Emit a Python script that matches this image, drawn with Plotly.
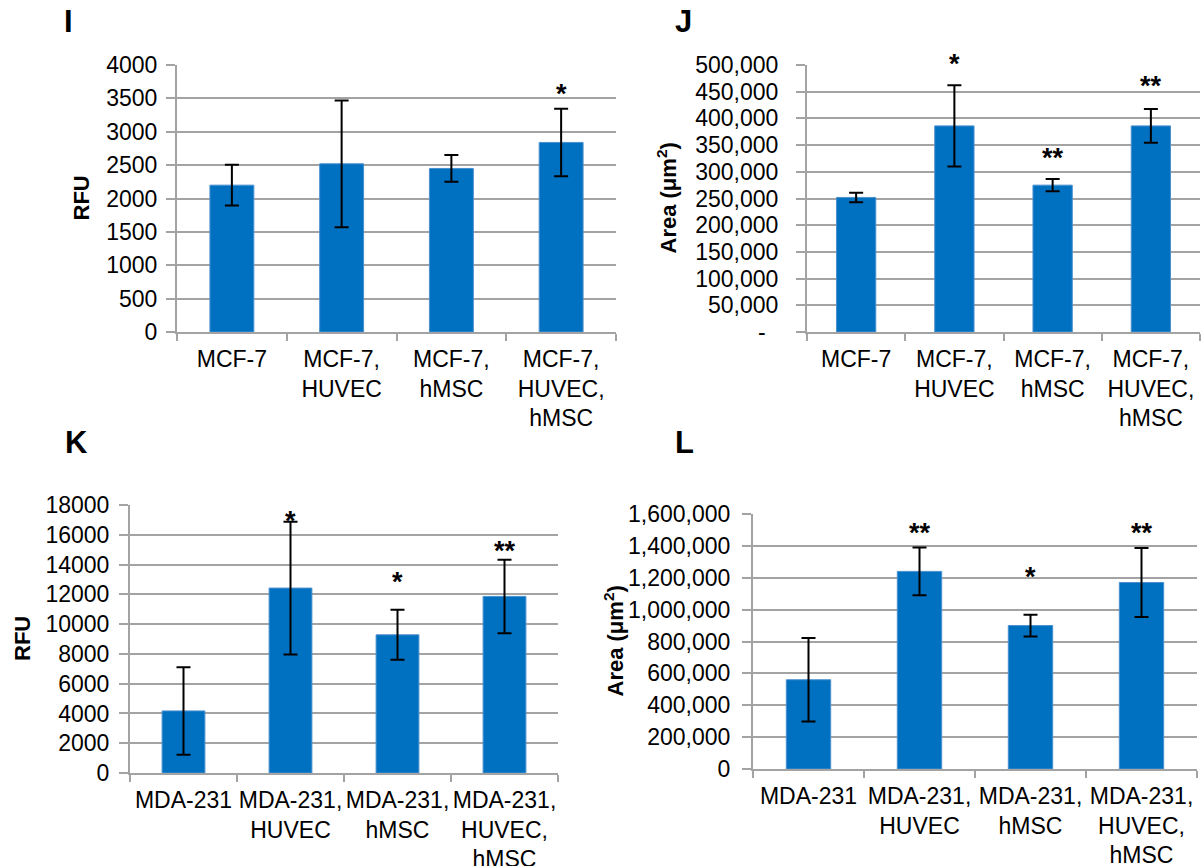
import plotly.graph_objects as go

# ---------------- data ----------------
mcf_categories = ["MCF-7", "MCF-7,<br>HUVEC", "MCF-7,<br>hMSC", "MCF-7,<br>HUVEC,<br>hMSC"]
mda_categories = ["MDA-231", "MDA-231,<br>HUVEC", "MDA-231,<br>hMSC", "MDA-231,<br>HUVEC,<br>hMSC"]

i_rfu = [2200, 2520, 2450, 2840]
i_err = [305, 950, 200, 505]
i_stars = ["", "", "", "*"]
i_star_y = [None, None, None, 3655]

j_area = [252000, 386000, 275000, 386000]
j_err = [9000, 76000, 11500, 31500]
j_stars = ["", "*", "**", "**"]
j_star_y = [None, 513000, 337000, 472000]

k_rfu = [4170, 12420, 9280, 11860]
k_err = [2940, 4460, 1680, 2470]
k_stars = ["", "*", "*", "**"]
k_star_y = [None, 17330, 13260, 15320]

l_area = [560000, 1240000, 900000, 1170000]
l_err = [262000, 150000, 68000, 217000]
l_stars = ["", "**", "*", "**"]
l_star_y = [None, 1516000, 1240000, 1516000]

i_ticks = [0, 500, 1000, 1500, 2000, 2500, 3000, 3500, 4000]
i_ticktext = [str(v) for v in i_ticks]
j_ticks = list(range(0, 500001, 50000))
j_ticktext = ["-\u00a0\u00a0"] + [f"{v:,}" for v in j_ticks[1:]]
k_ticks = list(range(0, 18001, 2000))
k_ticktext = [str(v) for v in k_ticks]
l_ticks = list(range(0, 1600001, 200000))
l_ticktext = [f"{v:,}" for v in l_ticks]

# ---------------- layout helpers ----------------
W, H = 1201, 866
FONT = "Liberation Sans, Arial, sans-serif"
GRID = "#a3a3a3"
BAR = "#0070C0"


def px_x(p):
    return p / W


def px_y(p):
    return 1 - p / H


panels = [
    dict(cats=mcf_categories, vals=i_rfu, errs=i_err, stars=i_stars, star_y=i_star_y,
         ticks=i_ticks, ticktext=i_ticktext, ymax=4000,
         xdom=(177, 616), ydom=(65, 332), title="RFU", title_x=81, letter="I",
         letter_xy=(68, 22), standoff=4),
    dict(cats=mcf_categories, vals=j_area, errs=j_err, stars=j_stars, star_y=j_star_y,
         ticks=j_ticks, ticktext=j_ticktext, ymax=500000,
         xdom=(807, 1200), ydom=(65, 332), title="Area (μm<sup>2</sup>)", title_x=667, letter="J",
         letter_xy=(683, 22), standoff=13),
    dict(cats=mda_categories, vals=k_rfu, errs=k_err, stars=k_stars, star_y=k_star_y,
         ticks=k_ticks, ticktext=k_ticktext, ymax=18000,
         xdom=(130, 558), ydom=(505, 773), title="RFU", title_x=22, letter="K",
         letter_xy=(76, 443), standoff=5),
    dict(cats=mda_categories, vals=l_area, errs=l_err, stars=l_stars, star_y=l_star_y,
         ticks=l_ticks, ticktext=l_ticktext, ymax=1600000,
         xdom=(753, 1197), ydom=(514, 769), title="Area (μm<sup>2</sup>)", title_x=613, letter="L",
         letter_xy=(684, 443), standoff=7),
]

fig = go.Figure()
annotations = []
layout_axes = {}

for n, p in enumerate(panels, start=1):
    xa = "x" if n == 1 else f"x{n}"
    ya = "y" if n == 1 else f"y{n}"
    xkey = "xaxis" if n == 1 else f"xaxis{n}"
    ykey = "yaxis" if n == 1 else f"yaxis{n}"

    fig.add_trace(go.Bar(
        x=p["cats"], y=p["vals"], xaxis=xa, yaxis=ya,
        marker=dict(color=BAR, line=dict(color="#4a90cf", width=1)),
        error_y=dict(type="data", array=p["errs"], visible=True,
                     color="black", thickness=2, width=7),
        showlegend=False, hoverinfo="skip",
    ))

    layout_axes[xkey] = dict(
        domain=[px_x(p["xdom"][0]), px_x(p["xdom"][1])],
        anchor=ya, type="category", range=[-0.5, 3.5],
        showline=True, linecolor=GRID, linewidth=2,
        ticks="outside", tickson="boundaries", ticklen=7, tickwidth=2, tickcolor=GRID,
        showgrid=False, zeroline=False, tickangle=0, automargin=False,
        tickfont=dict(family=FONT, size=23, color="black"),
        ticklabelstandoff=5,
    )
    layout_axes[ykey] = dict(
        domain=[px_y(p["ydom"][1]), px_y(p["ydom"][0])],
        anchor=xa, range=[0, p["ymax"]],
        tickmode="array", tickvals=p["ticks"], ticktext=p["ticktext"],
        showgrid=True, gridcolor=GRID, gridwidth=2,
        showline=True, linecolor=GRID, linewidth=2,
        ticks="outside", ticklen=9, tickwidth=2, tickcolor=GRID,
        zeroline=False, automargin=False,
        tickfont=dict(family=FONT, size=23, color="black"),
        ticklabelstandoff=p["standoff"],
    )

    # significance stars (y given in data units, placed via the axis domain so
    # stars above the axis range stay visible)
    for cat, s, sy in zip(p["cats"], p["stars"], p["star_y"]):
        if s:
            annotations.append(dict(
                x=cat, y=sy / p["ymax"], xref=xa, yref=f"{ya} domain",
                text="<b>" + s + "</b>", showarrow=False,
                font=dict(family=FONT, size=27, color="black"),
                yanchor="middle", xanchor="center", yshift=-6,
            ))

    # axis title
    cy = (p["ydom"][0] + p["ydom"][1]) / 2
    annotations.append(dict(
        x=px_x(p["title_x"]), y=px_y(cy), xref="paper", yref="paper",
        text="<b>" + p["title"] + "</b>", textangle=-90, showarrow=False,
        font=dict(family=FONT, size=22, color="black"),
        xanchor="center", yanchor="middle",
    ))
    # panel letter
    annotations.append(dict(
        x=px_x(p["letter_xy"][0]), y=px_y(p["letter_xy"][1]), xref="paper", yref="paper",
        text="<b>" + p["letter"] + "</b>", showarrow=False,
        font=dict(family=FONT, size=31, color="black"),
        xanchor="center", yanchor="middle",
    ))

fig.update_layout(
    width=W, height=H,
    margin=dict(l=0, r=0, t=0, b=0, autoexpand=False),
    paper_bgcolor="white", plot_bgcolor="white",
    bargap=0.6, showlegend=False,
    annotations=annotations,
    **layout_axes,
)

fig.write_html(
    "out.html",
    config={"displayModeBar": False},
    post_script="document.body.style.margin='0';document.body.style.overflow='hidden';"
                "document.documentElement.style.overflow='hidden';",
)
